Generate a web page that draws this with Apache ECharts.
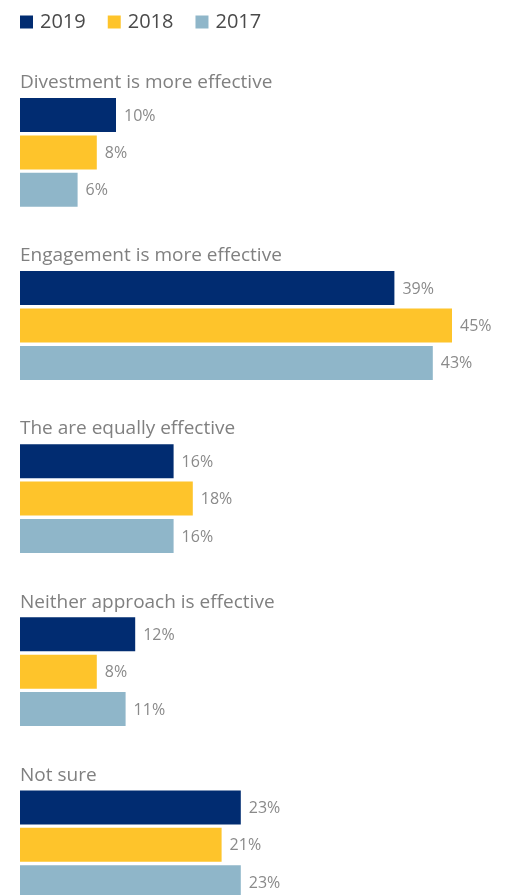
<!DOCTYPE html>
<html>
<head>
<meta charset="utf-8">
<script src="https://cdn.jsdelivr.net/npm/echarts@6/dist/echarts.min.js"></script>
<style>
html,body{margin:0;padding:0;background:#fff;overflow:hidden;width:506px;height:895px;}
#c{width:506px;height:905px;}
</style>
</head>
<body>
<div id="c"></div>
<script>
var groups = ['Divestment is more effective','Engagement is more effective','The are equally effective','Neither approach is effective','Not sure'];
var years = ['2019','2018','2017'];
var v2019 = [10, 39, 16, 12, 23];
var v2018 = [8, 45, 18, 8, 21];
var v2017 = [6, 43, 16, 11, 23];
var colors = ['#012c71', '#fec42b', '#8fb6c9'];

var FONT = 'Open Sans';
var seriesVals = [v2019, v2018, v2017];
var pitch = 173.1, firstTop = 96.3, bandH = 37.4;
var grids = [], xAxes = [], yAxes = [], series = [], titles = [];
groups.forEach(function (g, i) {
  var top = firstTop + i * pitch;
  grids.push({left: 20, width: 432, top: top, height: bandH * 3});
  xAxes.push({gridIndex: i, type: 'value', min: 0, max: 45, show: false});
  yAxes.push({gridIndex: i, type: 'category', data: years, inverse: true, show: false});
  titles.push({text: g, left: 15, top: top - 28,
    textStyle: {fontFamily: FONT, fontSize: 19, fontWeight: 'normal', color: '#808080'}});
  years.forEach(function (y, k) {
    var d = years.map(function (yy, kk) { return kk === k ? seriesVals[k][i] : '-'; });
    series.push({
      type: 'bar', name: y, xAxisIndex: i, yAxisIndex: i, stack: 'g' + i,
      data: d, barWidth: 34, itemStyle: {color: colors[k]},
      label: {show: true, position: 'right', distance: 8, formatter: '{c}%',
        fontFamily: FONT, fontSize: 16, color: '#8a8a8a', offset: [0, 1]},
      silent: true, animation: false
    });
  });
});

var chart = echarts.init(document.getElementById('c'), null, {renderer: 'canvas'});
chart.setOption({
  animation: false,
  color: colors,
  title: titles,
  legend: {
    data: years, left: 15, top: 7, itemWidth: 13, itemHeight: 13, itemGap: 22,
    icon: 'rect', selectedMode: false,
    textStyle: {fontFamily: FONT, fontSize: 20, color: '#4a4a4a', padding: [0, 0, 0, 2]}
  },
  grid: grids,
  xAxis: xAxes,
  yAxis: yAxes,
  series: series
});
</script>
</body>
</html>
